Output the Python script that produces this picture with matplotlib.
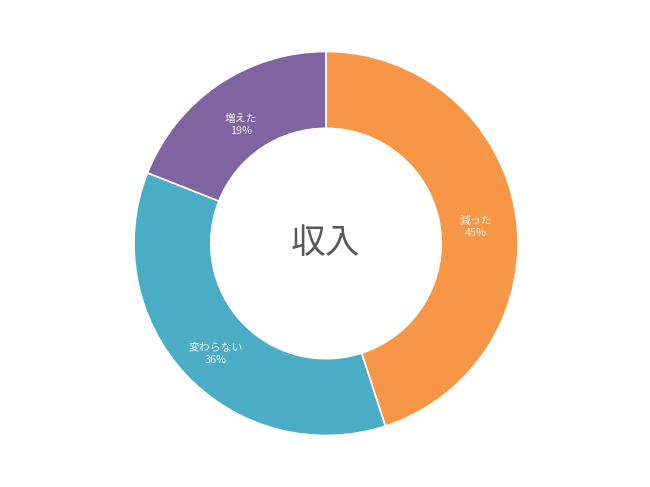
import matplotlib.pyplot as plt
import matplotlib.transforms as mtransforms

plt.rcParams['font.family'] = ['Noto Sans CJK JP', 'DejaVu Sans']

# data
categories = ["減った", "変わらない", "増えた"]
values = [45, 36, 19]
colors = ["#F79646", "#4BACC6", "#8064A2"]
center_title = "収入"

fig = plt.figure(figsize=(6.5, 4.87), dpi=100)
ax = fig.add_axes([0, 0, 1, 1])

labels = [f"{c}\n{v}%" for c, v in zip(categories, values)]
wedges, texts = ax.pie(values, colors=colors, startangle=90, counterclock=False,
                       labels=labels, labeldistance=0.79,
                       wedgeprops=dict(width=0.4, edgecolor="white", linewidth=1.2),
                       textprops=dict(color="#F4F4F4", fontsize=7.8, ha="center", va="center",
                                      linespacing=1.3))
# labels sit a little lower in the original
shift = mtransforms.ScaledTranslation(0, -5 / 72, fig.dpi_scale_trans)
for t in texts:
    t.set_ha("center")
    t.set_transform(t.get_transform() + shift)

ax.text(0, 0, center_title, ha="center", va="center", fontsize=25, color="#595959")

# place the ring: center at (326, 243.5) px, radius 192 px
r = 192.0
ax.set_xlim(-326 / r, (650 - 326) / r)
ax.set_ylim(-(487 - 243.5) / r, 243.5 / r)
ax.set_aspect("equal")
ax.axis("off")

fig.savefig("out.png", dpi=100, facecolor="white")
